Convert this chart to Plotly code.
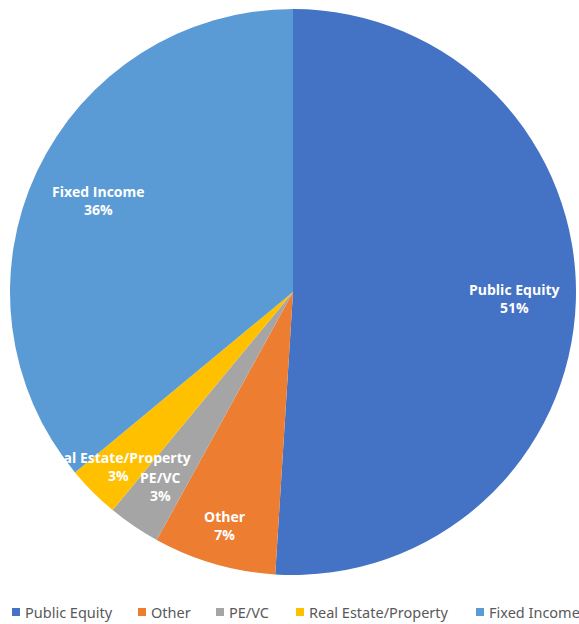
import math
import plotly.graph_objects as go

# Asset allocation shares (%)
categories = ["Public Equity", "Other", "PE/VC", "Real Estate/Property", "Fixed Income"]
shares = [51, 7, 3, 3, 36]
colors = ["#4472C4", "#ED7D31", "#A5A5A5", "#FFC000", "#5B9BD5"]

# Radial placement of each in-slice label (fraction of radius)
label_radius = [0.78, 0.86, 0.83, 0.87, 0.76]
# Left edge (px) of each legend swatch along the bottom row
legend_x = [12, 138, 216, 296, 476]

W, H = 579, 624
ML, MR, MT, MB = 10, 3, 9, 49
PW, PH = W - ML - MR, H - MT - MB
R = min(PW, PH) / 2
CX, CY = ML + PW / 2, MT + PH / 2


def to_paper(px, py):
    return (px - ML) / PW, 1 - (py - MT) / PH


fig = go.Figure(go.Pie(
    labels=categories,
    values=shares,
    sort=False,
    direction="clockwise",
    rotation=0,
    textinfo="none",
    hoverinfo="label+percent",
    marker=dict(colors=colors, line=dict(width=0)),
))

# Bold white labels inside each slice, positioned at the slice's mid angle
total = sum(shares)
cum = 0
annotations = []
for name, v, rf in zip(categories, shares, label_radius):
    mid = (cum + v / 2) / total * 2 * math.pi
    cum += v
    px = CX + math.sin(mid) * R * rf
    py = CY - math.cos(mid) * R * rf
    x, y = to_paper(px, py)
    annotations.append(dict(
        x=x, y=y, xref="paper", yref="paper",
        text=f"<b>{name}<br>{round(v / total * 100)}%</b>",
        showarrow=False, xanchor="center", yanchor="middle",
        font=dict(family="Open Sans", size=14, color="white"),
    ))

# Legend row: small colour swatch followed by the category name
shapes = []
LEG_Y = 612
SW = 8
for name, col, lx in zip(categories, colors, legend_x):
    x0, y0 = to_paper(lx, LEG_Y + SW / 2)
    x1, y1 = to_paper(lx + SW, LEG_Y - SW / 2)
    shapes.append(dict(type="rect", xref="paper", yref="paper",
                       x0=x0, y0=y0, x1=x1, y1=y1,
                       fillcolor=col, line=dict(width=0)))
    tx, ty = to_paper(lx + SW + 3, LEG_Y)
    annotations.append(dict(
        x=tx, y=ty, xref="paper", yref="paper", text=name,
        showarrow=False, xanchor="left", yanchor="middle",
        font=dict(family="Noto Sans", size=14.5, color="#595959"),
    ))

fig.update_layout(
    width=W, height=H,
    margin=dict(l=ML, r=MR, t=MT, b=MB),
    paper_bgcolor="white",
    plot_bgcolor="white",
    annotations=annotations,
    shapes=shapes,
    showlegend=False,
)

fig.write_html("out.html")
